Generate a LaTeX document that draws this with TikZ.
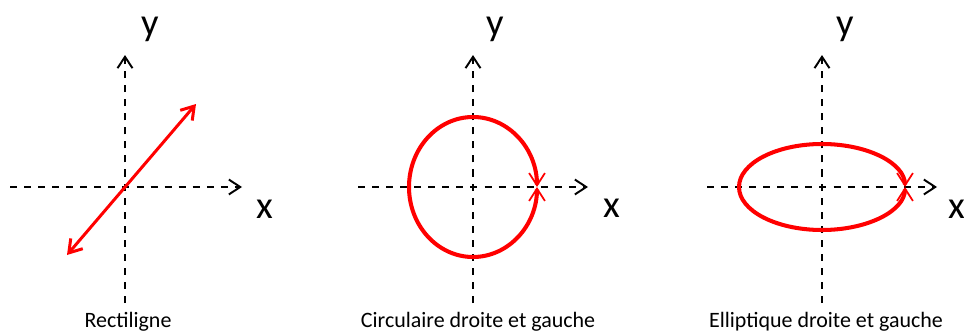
\documentclass[tikz,border=0pt]{standalone}
\usepackage{fontspec}
\setmainfont{Carlito}
\usepackage{xcolor}
\usepackage{tikz}
\usetikzlibrary{arrows.meta, positioning, calc}
\definecolor{polred}{RGB}{255, 0, 0}
\tikzstyle{axis} = [
    line width=1.1pt,
    dash pattern=on 4pt off 4pt,
    -{Straight Barb[length=6.5pt, width=8.5pt, line width=1.1pt]},
    color=black
]
\tikzstyle{field} = [
    line width=1.7pt,
    {Straight Barb[length=7pt, width=9pt]}-{Straight Barb[length=7pt, width=9pt]},
    color=polred
]
\tikzstyle{orbit} = [
    line width=2.3pt,
    -{Straight Barb[length=7pt, width=9pt, line width=1pt]},
    color=polred
]
\tikzstyle{axlabel} = [
    inner sep=0pt,
    font=\fontsize{22}{24}\selectfont
]
\tikzstyle{caption} = [
    inner sep=0pt,
    anchor=base,
    font=\fontsize{12.5}{14}\selectfont
]

\begin{document}
\begin{tikzpicture}[x=0.02cm, y=0.02cm]
        \useasboundingbox (0,0) rectangle (964,332);

        % Rectiligne
        \coordinate (o1) at (125,145);
        \coordinate (x1a) at (10,145);
        \coordinate (x1b) at (242,145);
        \coordinate (y1a) at (125,29);
        \coordinate (y1b) at (125,277);
        \draw[axis] (x1a) -- (x1b);
        \draw[axis] (y1a) -- (y1b);
        \coordinate (e1a) at (67,77);
        \coordinate (e1b) at (196,228);
        \draw[field] (e1a) -- (e1b);
        \node[axlabel] (ylab1) at (150,302.5) {y};
        \node[axlabel] (xlab1) at (265,123) {x};
        \node[caption] (cap1) at (128,4.5) {Rectiligne};

        % Circulaire
        \coordinate (o2) at (473,145);
        \coordinate (x2a) at (358,145);
        \coordinate (x2b) at (588,145);
        \coordinate (y2a) at (473,29);
        \coordinate (y2b) at (473,277);
        \draw[axis] (x2a) -- (x2b);
        \draw[axis] (y2a) -- (y2b);
        \draw[orbit] ($(o2)+(-64,0)$) arc[start angle=180, end angle=0, x radius=64, y radius=70];
        \draw[orbit] ($(o2)+(-64,0)$) arc[start angle=180, end angle=360, x radius=64, y radius=70];
        \node[axlabel] (ylab2) at (495,302.5) {y};
        \node[axlabel] (xlab2) at (612,124) {x};
        \node[caption] (cap2) at (478,4.5) {Circulaire droite et gauche};

        % Elliptique
        \coordinate (o3) at (822,145);
        \coordinate (x3a) at (707,145);
        \coordinate (x3b) at (937,145);
        \coordinate (y3a) at (822,29);
        \coordinate (y3b) at (822,277);
        \draw[axis] (x3a) -- (x3b);
        \draw[axis] (y3a) -- (y3b);
        \draw[orbit] ($(o3)+(-83,0)$) arc[start angle=180, end angle=0, x radius=83, y radius=43];
        \draw[orbit] ($(o3)+(-83,0)$) arc[start angle=180, end angle=360, x radius=83, y radius=43];
        \node[axlabel] (ylab3) at (845,302.5) {y};
        \node[axlabel] (xlab3) at (957,123) {x};
        \node[caption] (cap3) at (826,4.5) {Elliptique droite et gauche};
    \end{tikzpicture}
\end{document}
